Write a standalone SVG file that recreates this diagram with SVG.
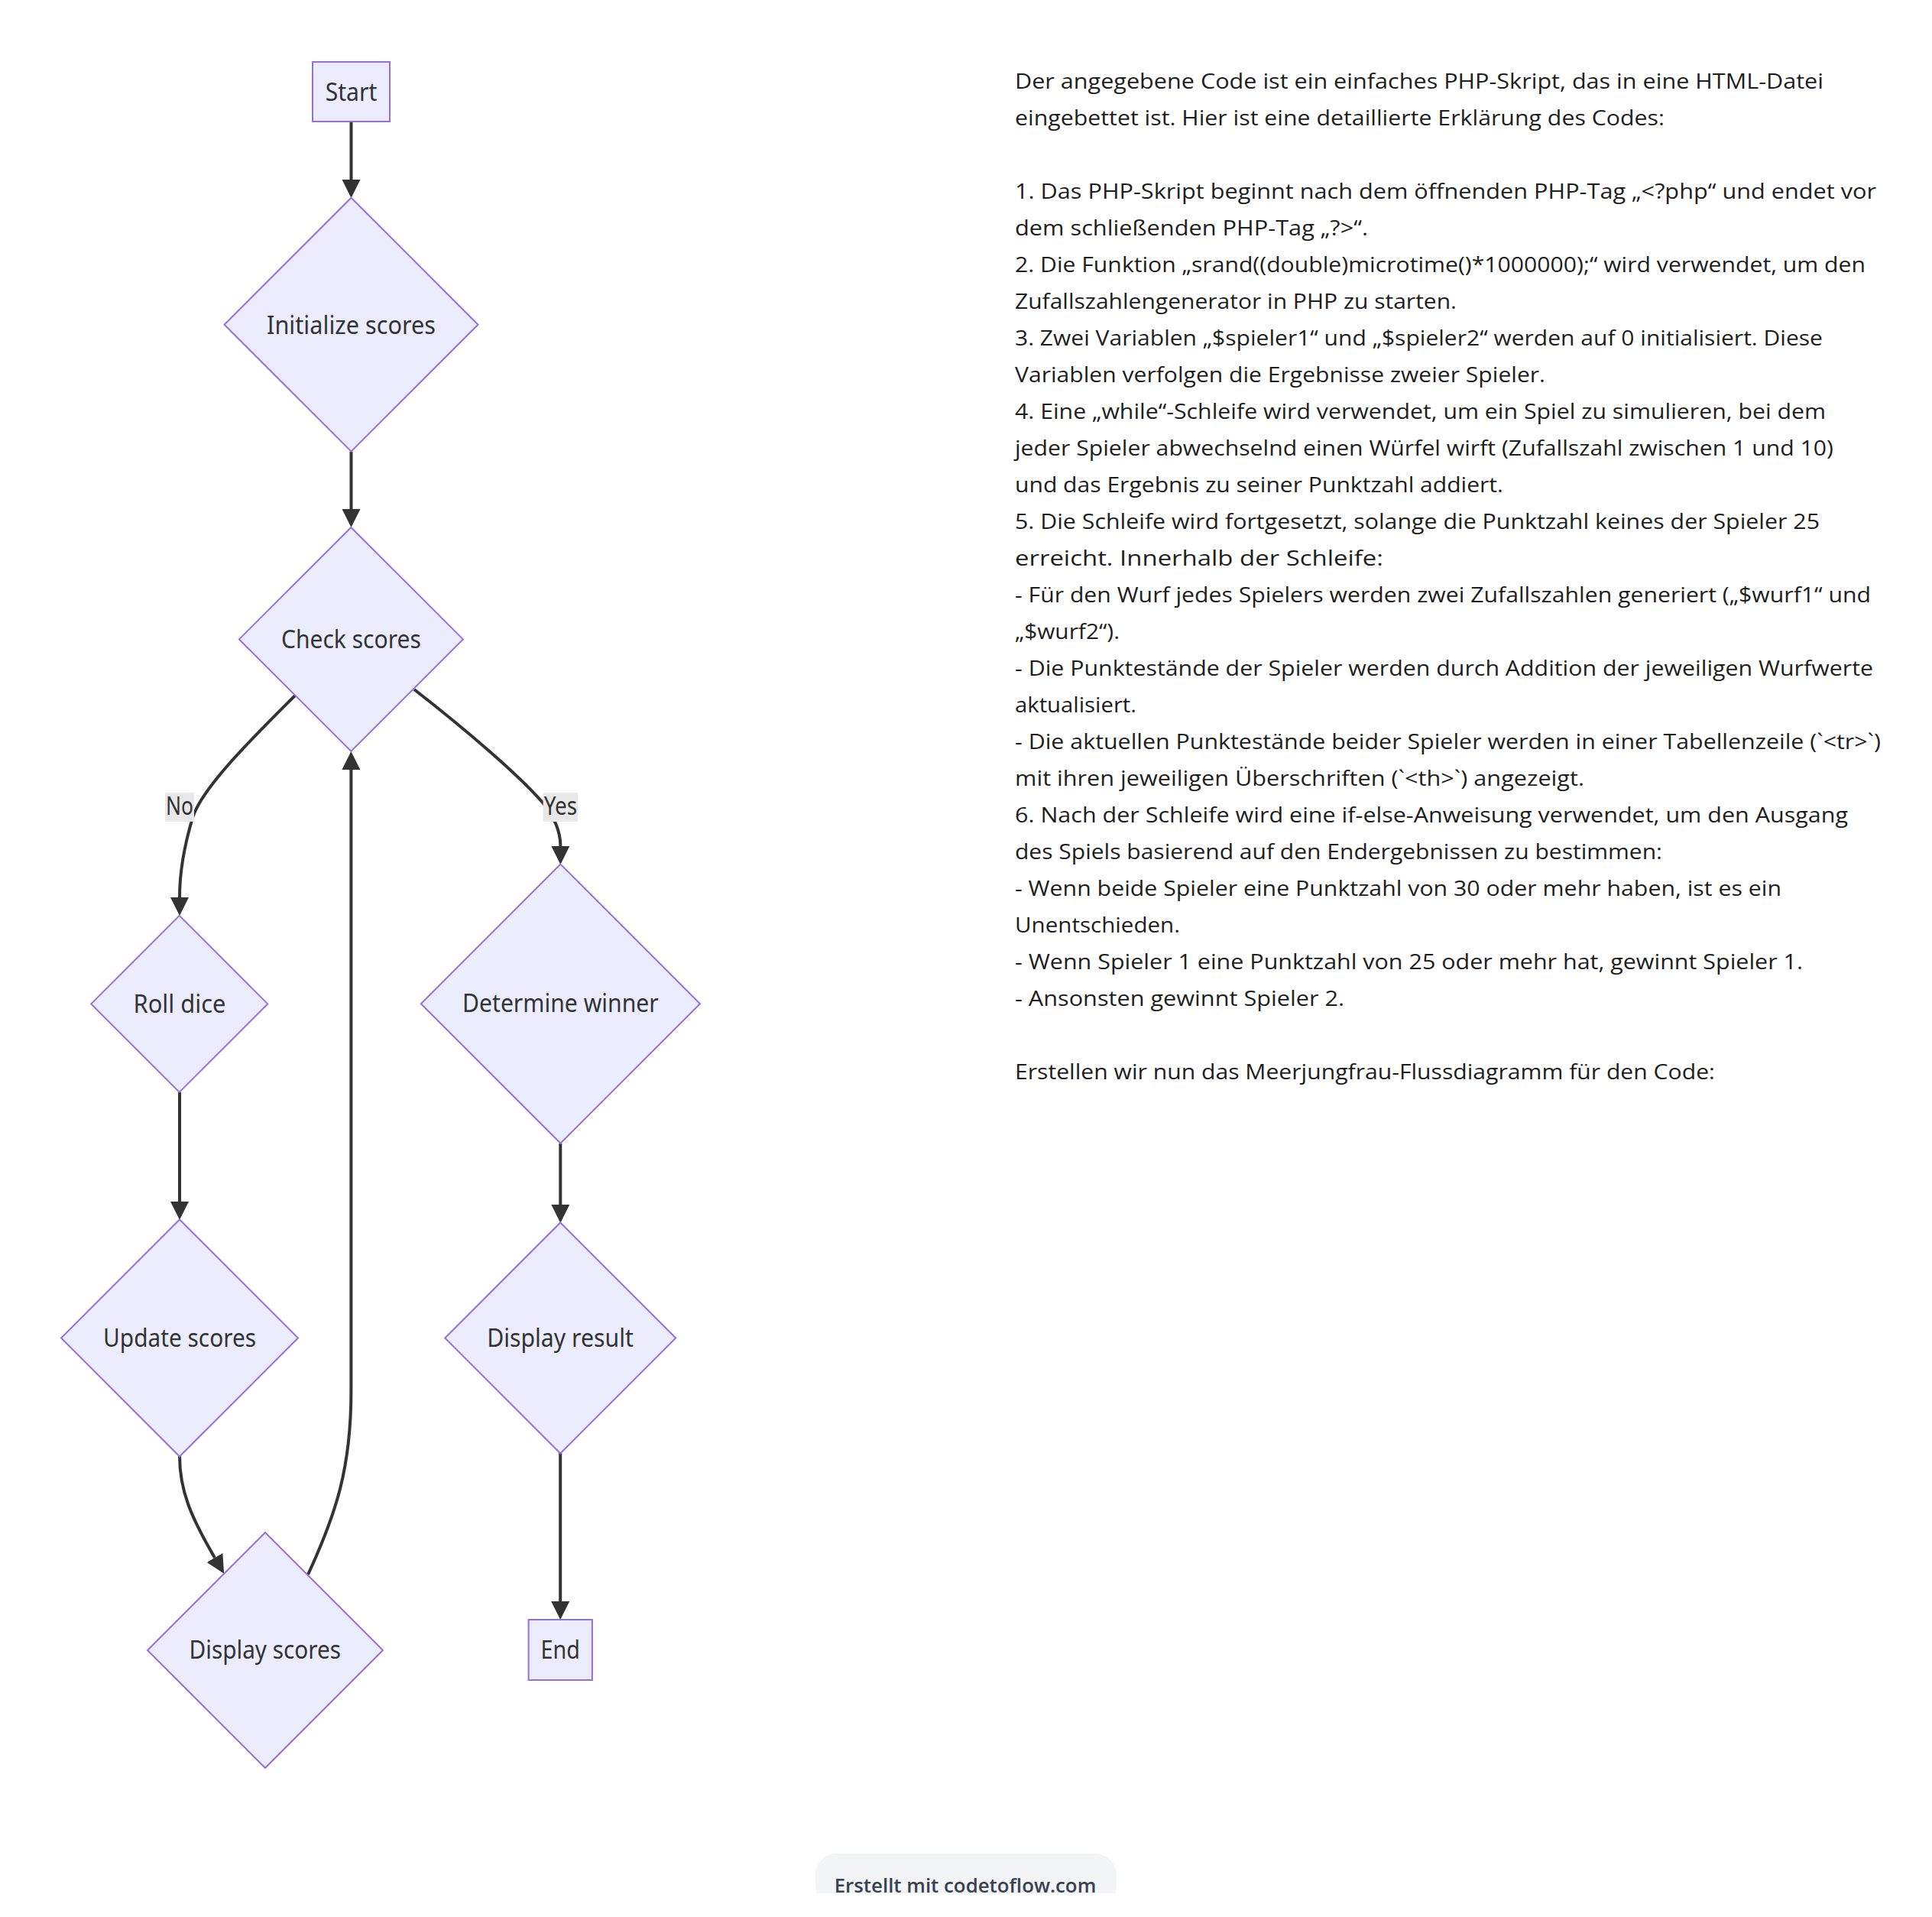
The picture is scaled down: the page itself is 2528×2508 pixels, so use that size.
<svg xmlns="http://www.w3.org/2000/svg" width="2528" height="2508" viewBox="0 0 2528 2508">
  <style>
    .node { fill: #ECECFF; stroke: #9370DB; stroke-width: 2; }
    .nlabel { font-family: "Noto Sans", "DejaVu Sans", sans-serif; font-size: 32px; fill: #333; text-anchor: middle; }
    .edge { fill: none; stroke: #333; stroke-width: 4; }
    .elabel-bg { fill: #e8e8e8; }
    .elabel { font-family: "Noto Sans", "DejaVu Sans", sans-serif; font-size: 32px; fill: #333; text-anchor: middle; }
    .desc { font-family: "Open Sans", "Noto Sans", sans-serif; font-size: 27px; fill: #1e1e1e; }
    .footer-bg { fill: #f3f4f6; }
    .footer { font-family: "Open Sans", "Noto Sans", sans-serif; font-size: 26px; font-weight: 600; fill: #374151; text-anchor: middle; }
  </style>
  <defs>
    <marker id="arrow" viewBox="0 0 24 24" refX="0" refY="12" markerWidth="24" markerHeight="24" markerUnits="userSpaceOnUse" orient="auto">
      <path d="M0,0 L24,12 L0,24 z" fill="#333"/>
    </marker>
    <clipPath id="footer-clip">
      <rect x="1000" y="2400" width="520" height="77"/>
    </clipPath>
  </defs>

  <rect width="2528" height="2508" fill="#ffffff"/>

  <!-- connectors -->
  <g id="edges">
    <path class="edge" d="M459.5,159 L459.5,235" marker-end="url(#arrow)"/>
    <path class="edge" d="M459.5,591 L459.5,666" marker-end="url(#arrow)"/>
    <path class="edge" d="M386,910 C336,960 264,1030 252,1070 C243,1100 235,1140 235,1174" marker-end="url(#arrow)"/>
    <path class="edge" d="M542,902 C610,955 680,1015 710,1050 C728,1072 733.4,1090 733.4,1107" marker-end="url(#arrow)"/>
    <path class="edge" d="M235,1429 L235,1572" marker-end="url(#arrow)"/>
    <path class="edge" d="M235,1905 C235,1950 250,1985 281,2038" marker-end="url(#arrow)"/>
    <path class="edge" d="M403,2060 C440,1980 459.4,1920 459.4,1820 L459.4,1007" marker-end="url(#arrow)"/>
    <path class="edge" d="M733.3,1496 L733.3,1576" marker-end="url(#arrow)"/>
    <path class="edge" d="M733.2,1901 L733.2,2095" marker-end="url(#arrow)"/>
  </g>

  <!-- edge labels -->
  <g id="edge-labels">
    <g id="label-no">
      <rect class="elabel-bg" x="216" y="1037" width="38" height="38"/>
      <text class="elabel" x="235" y="1066" textLength="36" lengthAdjust="spacingAndGlyphs">No</text>
    </g>
    <g id="label-yes">
      <rect class="elabel-bg" x="710.6" y="1037" width="45.5" height="38"/>
      <text class="elabel" x="733.4" y="1066" textLength="43.5" lengthAdjust="spacingAndGlyphs">Yes</text>
    </g>
  </g>

  <!-- nodes -->
  <g id="start">
    <rect class="node" x="409" y="81" width="101" height="78"/>
    <text class="nlabel" x="459.5" y="131.5" textLength="67.7" lengthAdjust="spacingAndGlyphs">Start</text>
  </g>
  <g id="initialize-scores">
    <polygon class="node" points="459.5,258.7 625.5,424.7 459.5,590.7 293.5,424.7"/>
    <text class="nlabel" x="459.5" y="436.5" textLength="221" lengthAdjust="spacingAndGlyphs">Initialize scores</text>
  </g>
  <g id="check-scores">
    <polygon class="node" points="459.4,690 605.9,836.4 459.4,982.9 312.9,836.4"/>
    <text class="nlabel" x="459.4" y="847.5" textLength="183" lengthAdjust="spacingAndGlyphs">Check scores</text>
  </g>
  <g id="roll-dice">
    <polygon class="node" points="234.7,1197.9 350.2,1313.4 234.7,1428.9 119.2,1313.4"/>
    <text class="nlabel" x="235" y="1324.5" textLength="121" lengthAdjust="spacingAndGlyphs">Roll dice</text>
  </g>
  <g id="update-scores">
    <polygon class="node" points="235,1595.5 390,1750.5 235,1905.5 80,1750.5"/>
    <text class="nlabel" x="235" y="1761.5" textLength="200" lengthAdjust="spacingAndGlyphs">Update scores</text>
  </g>
  <g id="display-scores">
    <polygon class="node" points="347,2005 501,2159 347,2313 193,2159"/>
    <text class="nlabel" x="346.8" y="2170" textLength="198.6" lengthAdjust="spacingAndGlyphs">Display scores</text>
  </g>
  <g id="determine-winner">
    <polygon class="node" points="733.4,1130.6 916,1313.2 733.4,1495.8 550.8,1313.2"/>
    <text class="nlabel" x="733.4" y="1324.3" textLength="256.7" lengthAdjust="spacingAndGlyphs">Determine winner</text>
  </g>
  <g id="display-result">
    <polygon class="node" points="733.2,1599.5 884.2,1750.5 733.2,1901.5 582.2,1750.5"/>
    <text class="nlabel" x="733" y="1761.5" textLength="191.7" lengthAdjust="spacingAndGlyphs">Display result</text>
  </g>
  <g id="end">
    <rect class="node" x="691.6" y="2119" width="83.3" height="79"/>
    <text class="nlabel" x="733.2" y="2170" textLength="51.3" lengthAdjust="spacingAndGlyphs">End</text>
  </g>

  <!-- explanation text -->
  <g id="explanation" class="desc">
    <text x="1328" y="116" textLength="1058" lengthAdjust="spacingAndGlyphs">Der angegebene Code ist ein einfaches PHP-Skript, das in eine HTML-Datei</text>
    <text x="1328" y="164" textLength="850" lengthAdjust="spacingAndGlyphs">eingebettet ist. Hier ist eine detaillierte Erklärung des Codes:</text>
    <text x="1328" y="260" textLength="1127" lengthAdjust="spacingAndGlyphs">1. Das PHP-Skript beginnt nach dem öffnenden PHP-Tag „&lt;?php“ und endet vor</text>
    <text x="1328" y="308" textLength="462" lengthAdjust="spacingAndGlyphs">dem schließenden PHP-Tag „?&gt;“.</text>
    <text x="1328" y="356" textLength="1113" lengthAdjust="spacingAndGlyphs">2. Die Funktion „srand((double)microtime()*1000000);“ wird verwendet, um den</text>
    <text x="1328" y="404" textLength="578" lengthAdjust="spacingAndGlyphs">Zufallszahlengenerator in PHP zu starten.</text>
    <text x="1328" y="452" textLength="1057" lengthAdjust="spacingAndGlyphs">3. Zwei Variablen „$spieler1“ und „$spieler2“ werden auf 0 initialisiert. Diese</text>
    <text x="1328" y="500" textLength="694" lengthAdjust="spacingAndGlyphs">Variablen verfolgen die Ergebnisse zweier Spieler.</text>
    <text x="1328" y="548" textLength="1061" lengthAdjust="spacingAndGlyphs">4. Eine „while“-Schleife wird verwendet, um ein Spiel zu simulieren, bei dem</text>
    <text x="1328" y="596" textLength="1071" lengthAdjust="spacingAndGlyphs">jeder Spieler abwechselnd einen Würfel wirft (Zufallszahl zwischen 1 und 10)</text>
    <text x="1328" y="644" textLength="639" lengthAdjust="spacingAndGlyphs">und das Ergebnis zu seiner Punktzahl addiert.</text>
    <text x="1328" y="692" textLength="1053" lengthAdjust="spacingAndGlyphs">5. Die Schleife wird fortgesetzt, solange die Punktzahl keines der Spieler 25</text>
    <text x="1328" y="740" textLength="482" lengthAdjust="spacingAndGlyphs">erreicht. Innerhalb der Schleife:</text>
    <text x="1328" y="788" textLength="1120" lengthAdjust="spacingAndGlyphs">- Für den Wurf jedes Spielers werden zwei Zufallszahlen generiert („$wurf1“ und</text>
    <text x="1328" y="836" textLength="137" lengthAdjust="spacingAndGlyphs">„$wurf2“).</text>
    <text x="1328" y="884" textLength="1123" lengthAdjust="spacingAndGlyphs">- Die Punktestände der Spieler werden durch Addition der jeweiligen Wurfwerte</text>
    <text x="1328" y="932" textLength="159" lengthAdjust="spacingAndGlyphs">aktualisiert.</text>
    <text x="1328" y="980" textLength="1133" lengthAdjust="spacingAndGlyphs">- Die aktuellen Punktestände beider Spieler werden in einer Tabellenzeile (`&lt;tr&gt;`)</text>
    <text x="1328" y="1028" textLength="745" lengthAdjust="spacingAndGlyphs">mit ihren jeweiligen Überschriften (`&lt;th&gt;`) angezeigt.</text>
    <text x="1328" y="1076" textLength="1090" lengthAdjust="spacingAndGlyphs">6. Nach der Schleife wird eine if-else-Anweisung verwendet, um den Ausgang</text>
    <text x="1328" y="1124" textLength="847" lengthAdjust="spacingAndGlyphs">des Spiels basierend auf den Endergebnissen zu bestimmen:</text>
    <text x="1328" y="1172" textLength="1003" lengthAdjust="spacingAndGlyphs">- Wenn beide Spieler eine Punktzahl von 30 oder mehr haben, ist es ein</text>
    <text x="1328" y="1220" textLength="216" lengthAdjust="spacingAndGlyphs">Unentschieden.</text>
    <text x="1328" y="1268" textLength="1031" lengthAdjust="spacingAndGlyphs">- Wenn Spieler 1 eine Punktzahl von 25 oder mehr hat, gewinnt Spieler 1.</text>
    <text x="1328" y="1316" textLength="431" lengthAdjust="spacingAndGlyphs">- Ansonsten gewinnt Spieler 2.</text>
    <text x="1328" y="1412" textLength="916" lengthAdjust="spacingAndGlyphs">Erstellen wir nun das Meerjungfrau-Flussdiagramm für den Code:</text>
  </g>

  <!-- footer badge, cut off at the bottom edge -->
  <g id="footer" clip-path="url(#footer-clip)">
    <rect class="footer-bg" x="1066.7" y="2425" width="394.3" height="70" rx="28" ry="28"/>
    <text class="footer" x="1263" y="2476" textLength="342.6" lengthAdjust="spacingAndGlyphs">Erstellt mit codetoflow.com</text>
  </g>
</svg>
